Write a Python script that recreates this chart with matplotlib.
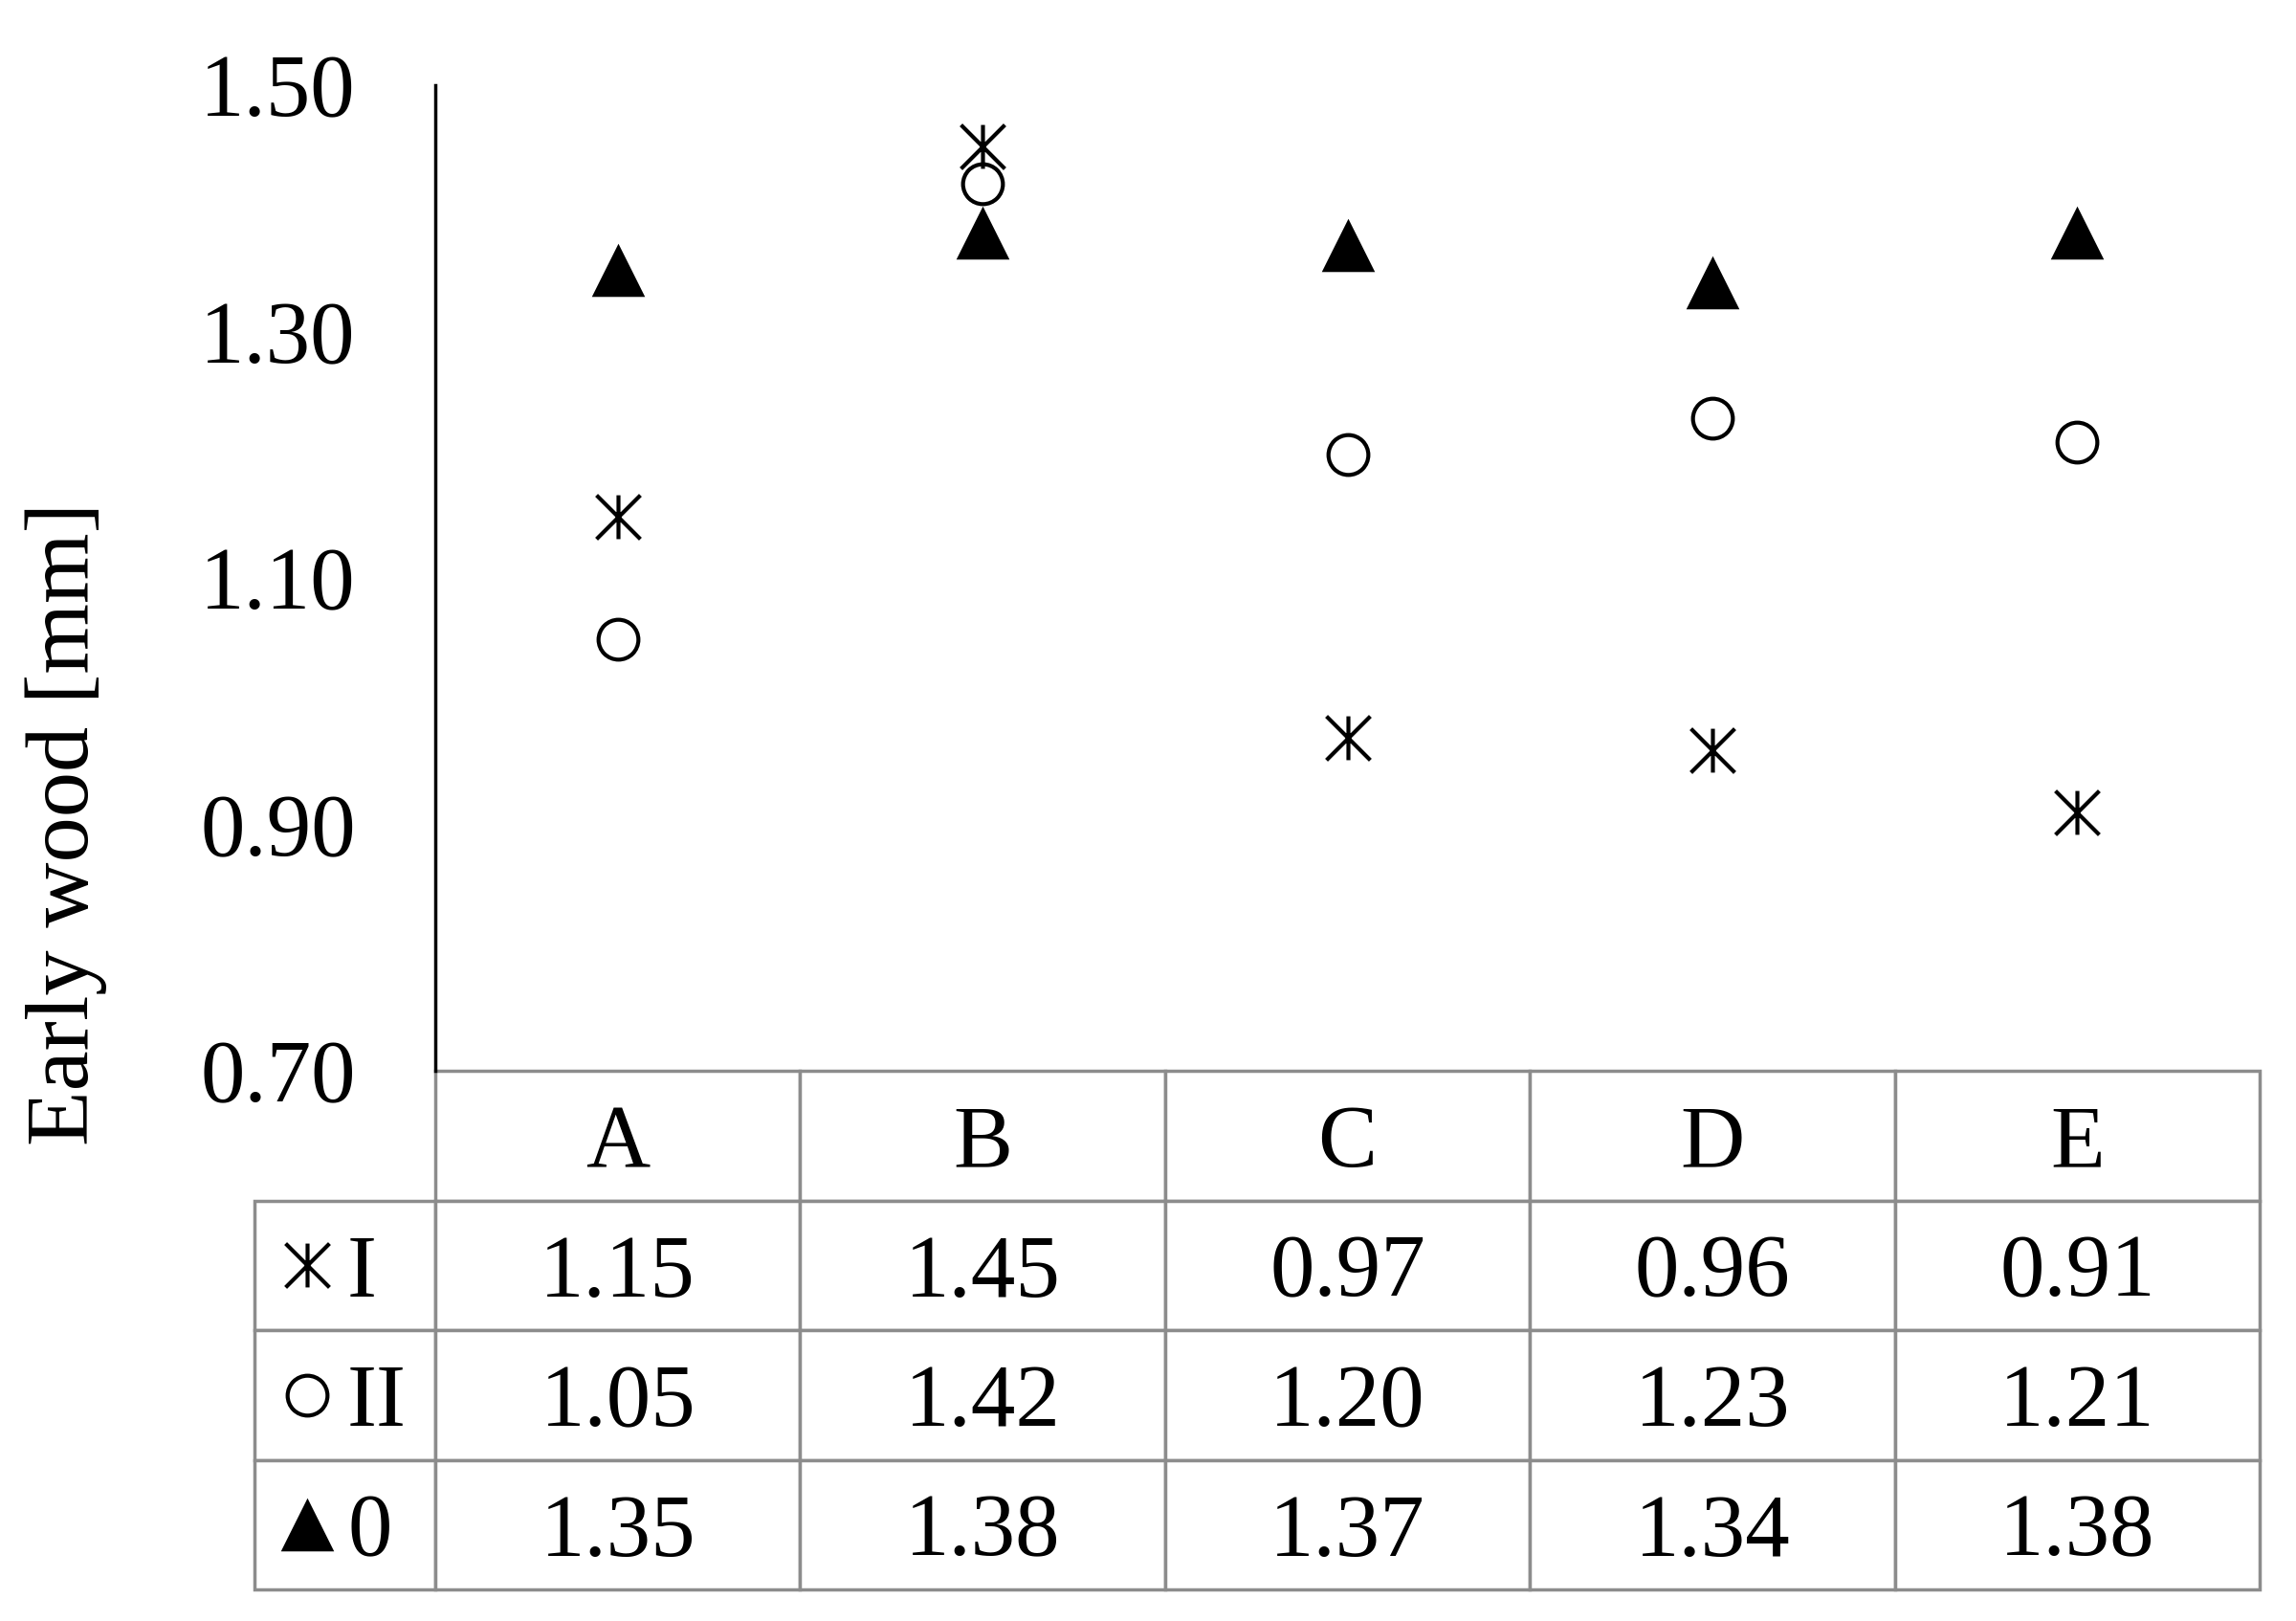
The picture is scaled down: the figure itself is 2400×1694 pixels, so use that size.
import matplotlib
matplotlib.use("Agg")
import matplotlib.pyplot as plt
from matplotlib.path import Path

plt.rcParams['font.family'] = ['Liberation Serif', 'DejaVu Serif']

groups = ["A", "B", "C", "D", "E"]
series_names = ["I", "II", "0"]
values_I = [1.15, 1.45, 0.97, 0.96, 0.91]
values_II = [1.05, 1.42, 1.20, 1.23, 1.21]
values_0 = [1.35, 1.38, 1.37, 1.34, 1.38]
yticks = [0.70, 0.90, 1.10, 1.30, 1.50]

# excel-like markers
star = Path([(0, -1), (0, 1), (-1, -1), (1, 1), (-1, 1), (1, -1)],
            [Path.MOVETO, Path.LINETO] * 3)
tri = [(-1, -1), (1, -1), (0, 1)]

styles = [
    dict(marker=star, ms=33, mfc="none", mec="black", mew=3),
    dict(marker="o", ms=30, mfc="none", mec="black", mew=3),
    dict(marker=tri, ms=40, mfc="black", mec="black", mew=0),
]
series = [values_I, values_II, values_0]

fig = plt.figure(figsize=(24, 16.94), dpi=100)
ax = fig.add_axes([0.1896, 0.3394, 0.7946, 0.6081])

x = list(range(len(groups)))
for vals, st in zip(series, styles):
    ax.plot(x, vals, linestyle="none", clip_on=False, **st)

ax.set_xlim(-0.5, len(groups) - 0.5)
ax.set_ylim(0.70, 1.50)
ax.set_yticks(yticks)
ax.set_yticklabels([f"{v:.2f}" for v in yticks])
ax.set_xticks([])
ax.tick_params(axis="y", length=0, pad=60, labelsize=67)
for s in ["top", "right", "bottom"]:
    ax.spines[s].set_visible(False)
ax.spines["left"].set_linewidth(2.5)

# data table under the plot
left_w = 189 / 1907
tab_h = 542 / 1030
cell_text = [[""] + groups]
for vals in series:
    cell_text.append([""] + [f"{v:.2f}" for v in vals])
tbl = ax.table(cellText=cell_text, cellLoc="center",
               colWidths=[left_w] + [0.2] * len(groups),
               bbox=[-left_w, -tab_h, 1 + left_w, tab_h])
tbl.auto_set_font_size(False)
tbl.set_fontsize(67)
for (r, c), cell in tbl.get_celld().items():
    cell.set_edgecolor("#8c8c8c")
    cell.set_linewidth(2.5)
    cell.get_text().set_va("center_baseline")
    if r == 0 and c == 0:
        cell.visible_edges = "open"

# legend keys inside the row-label cells
for i, (name, st) in enumerate(zip(series_names, styles)):
    yc = -tab_h * (i + 1.5) / 4
    ax.plot([-0.0703], [yc], linestyle="none", transform=ax.transAxes,
            clip_on=False, **st)
    ax.text(-0.0482, yc, name, transform=ax.transAxes, fontsize=67,
            ha="left", va="center_baseline")

fig.text(0.0288, 0.492, "Early wood [mm]", rotation=90, fontsize=68,
         ha="center", va="center")

fig.savefig("out.png", dpi=100)
